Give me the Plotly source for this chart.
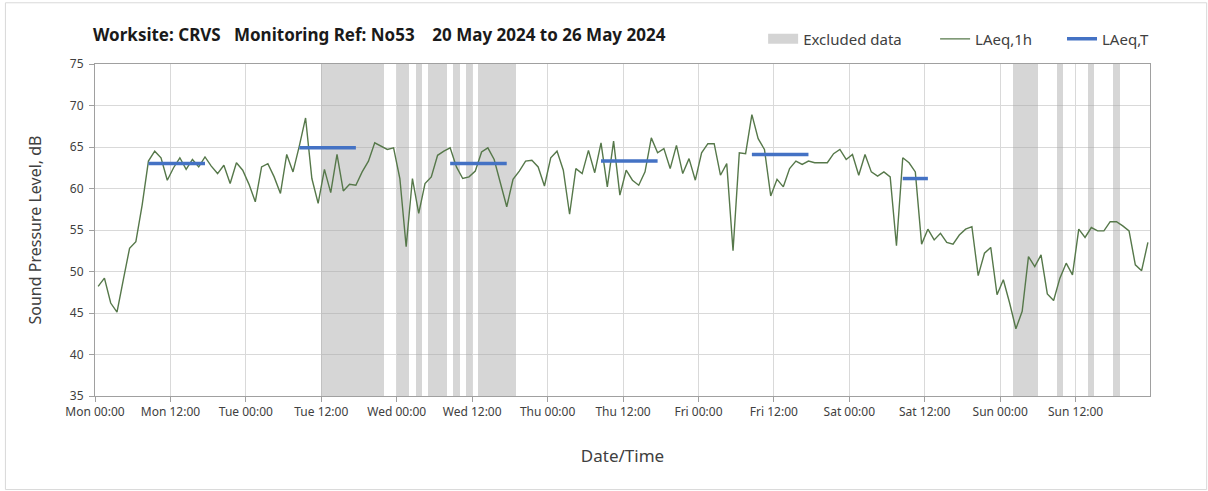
import pandas as pd
import plotly.graph_objects as go

# Hourly LAeq,1h values, Mon 20 May 00:00 -> Sun 26 May 23:00 (168 hours)
LAEQ_1H = [
    48.2, 49.2, 46.2, 45.1, 49.0, 52.8, 53.6, 58.0, 63.3, 64.5,
    63.7, 61.0, 62.5, 63.7, 62.3, 63.5, 62.6, 63.8, 62.7, 61.8,
    62.8, 60.6, 63.1, 62.2, 60.5, 58.4, 62.6, 63.0, 61.4, 59.4,
    64.1, 62.0, 65.1, 68.5, 61.2, 58.2, 62.3, 59.5, 64.1, 59.7,
    60.5, 60.4, 62.0, 63.3, 65.5, 65.1, 64.7, 64.9, 61.2, 53.0,
    61.2, 57.0, 60.6, 61.4, 64.0, 64.5, 64.9, 62.6, 61.2, 61.4,
    62.1, 64.4, 64.9, 63.5, 60.6, 57.8, 61.1, 62.1, 63.3, 63.4,
    62.6, 60.3, 63.7, 64.5, 62.2, 56.9, 62.4, 61.8, 64.6, 61.9,
    65.5, 60.2, 65.7, 59.2, 62.2, 61.0, 60.4, 62.0, 66.1, 64.3,
    64.8, 62.4, 65.2, 61.8, 63.6, 61.0, 64.3, 65.4, 65.4, 61.6,
    63.0, 52.5, 64.3, 64.2, 68.9, 66.0, 64.7, 59.1, 61.1, 60.2,
    62.4, 63.3, 62.9, 63.3, 63.1, 63.1, 63.1, 64.2, 64.7, 63.5,
    64.1, 61.6, 64.1, 62.0, 61.5, 62.0, 61.4, 53.1, 63.7, 63.1,
    62.0, 53.3, 55.1, 53.8, 54.6, 53.5, 53.3, 54.4, 55.1, 55.4,
    49.5, 52.2, 52.9, 47.2, 49.0, 46.2, 43.1, 45.2, 51.8, 50.6,
    52.0, 47.3, 46.5, 49.2, 51.0, 49.6, 55.1, 54.1, 55.3, 54.9,
    54.9, 56.0, 56.0, 55.5, 54.9, 50.8, 50.1, 53.5,
]

# Hours (from Mon 00:00) flagged as excluded
EXCLUDED_HOURS = [
    36, 37, 38, 39, 40, 41, 42, 43, 44, 45,
    48, 49, 51, 53, 54, 55, 57, 59,
    61, 62, 63, 64, 65, 66,
    146, 147, 148, 149, 153, 158, 162,
]

# Daytime LAeq,T per day: first hour, last hour, level
LAEQ_T_START = [8, 32, 56, 80, 104, 128]
LAEQ_T_END = [17, 41, 65, 89, 113, 132]
LAEQ_T_VALUES = [63.0, 64.9, 63.0, 63.3, 64.1, 61.2]

# Values plotted at the middle of each hourly period
times = pd.date_range("2024-05-20 00:30", periods=len(LAEQ_1H), freq="h")

GREEN = "#56784a"
BLUE = "#4472c4"
EXCL_GREY = "rgba(165,165,165,0.45)"
GREY_TEXT = "#404040"
FONT = "Noto Sans"

fig = go.Figure()

fig.add_trace(go.Bar(
    x=[times[h] for h in EXCLUDED_HOURS],
    y=[40] * len(EXCLUDED_HOURS),
    base=35,
    width=3600000,
    marker=dict(color=EXCL_GREY, line=dict(width=0)),
    name="Excluded data",
    showlegend=False,
))
# legend-only entry so the key is a wide grey box like the original
fig.add_trace(go.Scatter(
    x=[None], y=[None], mode="lines",
    line=dict(color="#d4d4d4", width=13),
    name="Excluded data", legend="legend",
))

fig.add_trace(go.Scatter(
    x=times, y=LAEQ_1H,
    mode="lines",
    line=dict(color=GREEN, width=1.4),
    name="LAeq,1h", legend="legend2",
))

# blue segments, broken with None between days
tx, ty = [], []
for s, e, v in zip(LAEQ_T_START, LAEQ_T_END, LAEQ_T_VALUES):
    tx += [times[s], times[e], None]
    ty += [v, v, None]
fig.add_trace(go.Scatter(
    x=tx, y=ty,
    mode="lines",
    line=dict(color=BLUE, width=3.5),
    name="LAeq,T", legend="legend3",
))

leg = dict(y=1.075, yanchor="middle", xanchor="left",
           font=dict(size=15, color=GREY_TEXT),
           itemwidth=30, bgcolor="rgba(0,0,0,0)")

fig.update_layout(
    width=1208, height=491,
    margin=dict(l=95, r=58, t=64, b=95),
    paper_bgcolor="white",
    plot_bgcolor="white",
    font=dict(family=FONT, color=GREY_TEXT, size=12),
    bargap=0,
    title=dict(
        text="Worksite: CRVS&nbsp;&nbsp;&nbsp;Monitoring Ref: No53&nbsp;&nbsp;&nbsp;&nbsp;"
             "20 May 2024 to 26 May 2024",
        font=dict(family=FONT, size=17, color="#1a1a1a", weight="bold"),
        x=0.077, xanchor="left",
        y=0.929, yanchor="middle",
    ),
    legend=dict(leg, x=0.6333),
    legend2=dict(leg, x=0.7963),
    legend3=dict(leg, x=0.9166),
    xaxis=dict(
        type="date",
        range=["2024-05-20 00:00", "2024-05-26 23:50"],
        tick0="2024-05-20 00:00",
        dtick=12 * 3600000,
        tickformat="%a %H:%M",
        showgrid=True, gridcolor="#d9d9d9", gridwidth=1,
        showline=True, linecolor="#a0a0a0", mirror=True,
        ticks="outside", ticklen=5, tickcolor="#a0a0a0",
        tickfont=dict(size=12, color=GREY_TEXT),
        title=dict(text="Date/Time", font=dict(size=17, color=GREY_TEXT), standoff=30),
        zeroline=False,
    ),
    yaxis=dict(
        range=[35, 75],
        dtick=5,
        showgrid=True, gridcolor="#d9d9d9", gridwidth=1,
        showline=True, linecolor="#a0a0a0", mirror=True,
        ticks="outside", ticklen=5, tickcolor="#a0a0a0",
        ticklabelstandoff=3,
        tickfont=dict(size=12, color=GREY_TEXT),
        title=dict(text="Sound Pressure Level, dB", font=dict(size=16, color=GREY_TEXT), standoff=24),
        zeroline=False,
    ),
    shapes=[dict(
        type="rect", xref="paper", yref="paper",
        x0=-0.0849, x1=1.0537, y0=-0.2818, y1=1.1844,
        line=dict(color="#d9d9d9", width=1),
        layer="below",
    )],
)

# drop the default page margin so the chart sits at the window's corner
fig.write_html("out.html", config={"displayModeBar": False},
               post_script="document.body.style.margin='0px';")
